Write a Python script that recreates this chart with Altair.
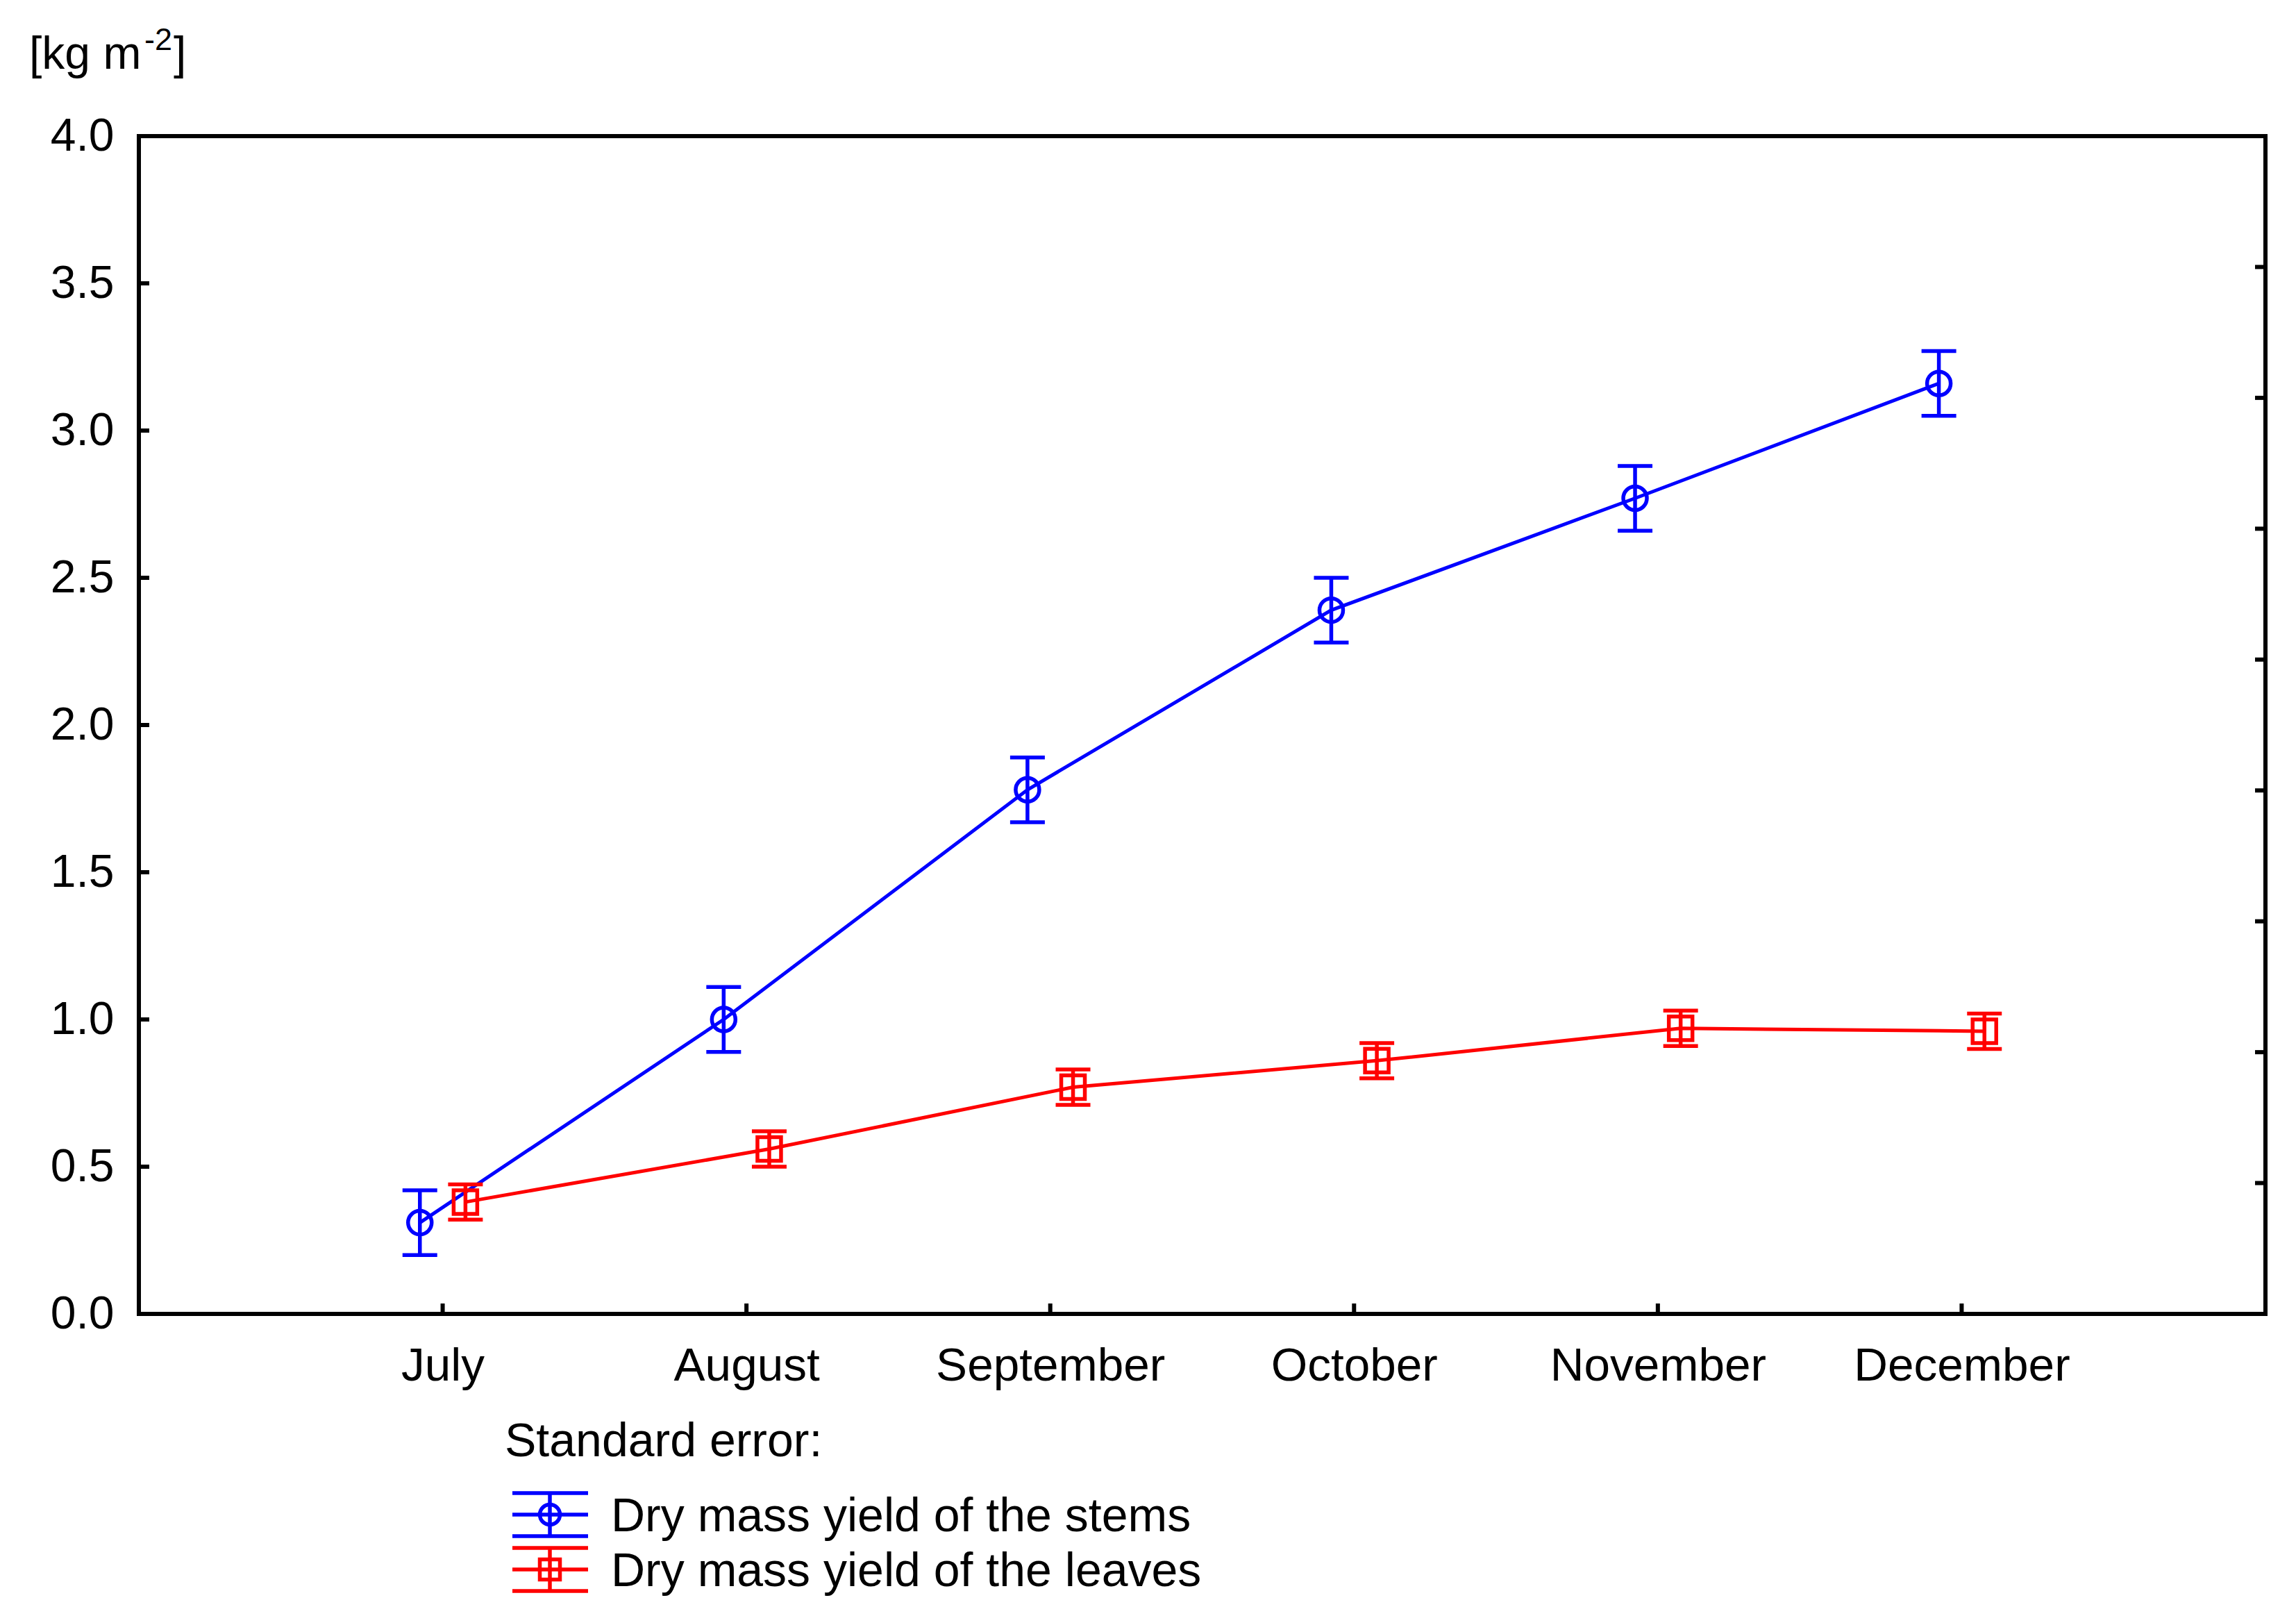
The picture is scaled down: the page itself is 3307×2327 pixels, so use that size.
import json
import altair as alt
import pandas as pd

# ---------------- data ----------------
months = ["July", "August", "September", "October", "November", "December"]
stems = [0.31, 1.00, 1.78, 2.39, 2.77, 3.16]
stems_se = [0.11, 0.11, 0.11, 0.11, 0.11, 0.11]
leaves = [0.38, 0.56, 0.77, 0.86, 0.97, 0.96]
leaves_se = [0.06, 0.06, 0.06, 0.06, 0.06, 0.06]

series_keys = ["stems", "leaves"]
series_labels = ["Dry mass yield of the stems", "Dry mass yield of the leaves"]
series_colors = ["#0000FF", "#FF0000"]
series_shapes = ["circle", "square"]
series_offsets = [-0.075, 0.075]

y_tick_values = [0.0, 0.5, 1.0, 1.5, 2.0, 2.5, 3.0, 3.5, 4.0]
right_tick_values = [4 * k / 9 for k in range(1, 9)]
legend_title = "Standard error:"

# ---------------- layout constants ----------------
W, H = 3063, 1696
FONT = "Liberation Sans"
FS = 66
XFS = 67.5
LFS = 68
SW = 5.5

rows = []
for key, vals, ses, off in zip(series_keys, [stems, leaves], [stems_se, leaves_se], series_offsets):
    for i, (m, v, s) in enumerate(zip(months, vals, ses)):
        rows.append({"key": key, "month": m, "x": i + 1 + off, "v": v, "lo": v - s, "hi": v + s})
df = pd.DataFrame(rows)

xs = alt.Scale(domain=[0, 7], nice=False, zero=False)
ys = alt.Scale(domain=[0, 4], nice=False, zero=False)

label_expr = json.dumps(months) + "[round(datum.value) - 1]"
xaxis = alt.Axis(values=[1, 2, 3, 4, 5, 6], labelExpr=label_expr, ticks=False, tickSize=0,
                 domain=False, grid=False, labelPadding=42, labelBaseline="top",
                 labelFont=FONT, labelFontSize=XFS, labelColor="black", title=None,
                 labelFlush=False, labelOverlap=False, labelAngle=0, labelLimit=0)
yaxis = alt.Axis(values=y_tick_values, format=".1f", ticks=False, tickSize=0, domain=False,
                 grid=False, labelPadding=36, labelFont=FONT, labelFontSize=FS,
                 labelColor="black", title=None, labelFlush=False, labelOverlap=False,
                 labelLimit=0)


def X(field="x"):
    return alt.X(f"{field}:Q", scale=xs, axis=xaxis)


def Y(field="v"):
    return alt.Y(f"{field}:Q", scale=ys, axis=yaxis)


color = alt.Color("key:N", scale=alt.Scale(domain=series_keys, range=series_colors), legend=None)
shape = alt.Shape("key:N", scale=alt.Scale(domain=series_keys, range=series_shapes), legend=None)

layers = []

# inward ticks
left_t = alt.Chart(pd.DataFrame({"t": y_tick_values[1:-1]})).mark_rule(color="black", strokeWidth=6).encode(
    y=Y("t"), x=alt.value(0), x2=alt.value(15))
right_t = alt.Chart(pd.DataFrame({"t": right_tick_values})).mark_rule(color="black", strokeWidth=6).encode(
    y=Y("t"), x=alt.value(W - 15), x2=alt.value(W))
bottom_t = alt.Chart(pd.DataFrame({"t": [1, 2, 3, 4, 5, 6]})).mark_rule(color="black", strokeWidth=6).encode(
    x=X("t"), y=alt.value(H - 15), y2=alt.value(H))
layers += [left_t, right_t, bottom_t]

base = alt.Chart(df)
lines = base.mark_line(strokeWidth=5).encode(x=X(), y=Y(), color=color)
bars = base.mark_rule(strokeWidth=SW).encode(x=X(), y=Y("lo"), y2=alt.Y2("hi"), color=color)
cap_lo = base.mark_tick(orient="horizontal", size=50, thickness=SW, opacity=1).encode(x=X(), y=Y("lo"), color=color)
cap_hi = base.mark_tick(orient="horizontal", size=50, thickness=SW, opacity=1).encode(x=X(), y=Y("hi"), color=color)
pts = base.mark_point(filled=False, size=1156, strokeWidth=SW, opacity=1).encode(
    x=X(), y=Y(), color=color, shape=shape)
layers += [lines, bars, cap_lo, cap_hi, pts]


def text_layer(txt, x, y, size=FS):
    return alt.Chart(pd.DataFrame({"t": [txt]})).mark_text(
        font=FONT, fontSize=size, align="left", baseline="alphabetic", color="black"
    ).encode(text="t:N", x=alt.value(x), y=alt.value(y))


def one():
    return pd.DataFrame({"a": [0]})


# y-axis unit title
layers += [text_layer("[kg m", -158, -97), text_layer("-2", 8, -124, 45), text_layer("]", 50, -97)]

# manual legend
layers.append(text_layer(legend_title, 527, 1901, LFS))
for j, (lab, col, shp) in enumerate(zip(series_labels, series_colors, series_shapes)):
    yc = 1985 + j * 79
    for dy in (-31, 0, 31):
        layers.append(alt.Chart(one()).mark_rule(color=col, strokeWidth=SW).encode(
            x=alt.value(538), x2=alt.value(647), y=alt.value(yc + dy)))
    layers.append(alt.Chart(one()).mark_rule(color=col, strokeWidth=SW).encode(
        x=alt.value(592), y=alt.value(yc - 31), y2=alt.value(yc + 31)))
    layers.append(alt.Chart(one()).mark_point(shape=shp, filled=False, size=841, strokeWidth=SW,
                                               opacity=1, color=col).encode(
        x=alt.value(592), y=alt.value(yc)))
    layers.append(text_layer(lab, 680, yc + 24, LFS))

chart = alt.layer(*layers).properties(
    width=W, height=H,
    background="white",
    autosize=alt.AutoSizeParams(type="none"),
    padding={"left": 192, "top": 188, "right": 36, "bottom": 420},
).configure_view(stroke="black", strokeWidth=6)

chart.save("out.html", embed_options={"renderer": "svg", "actions": False})
